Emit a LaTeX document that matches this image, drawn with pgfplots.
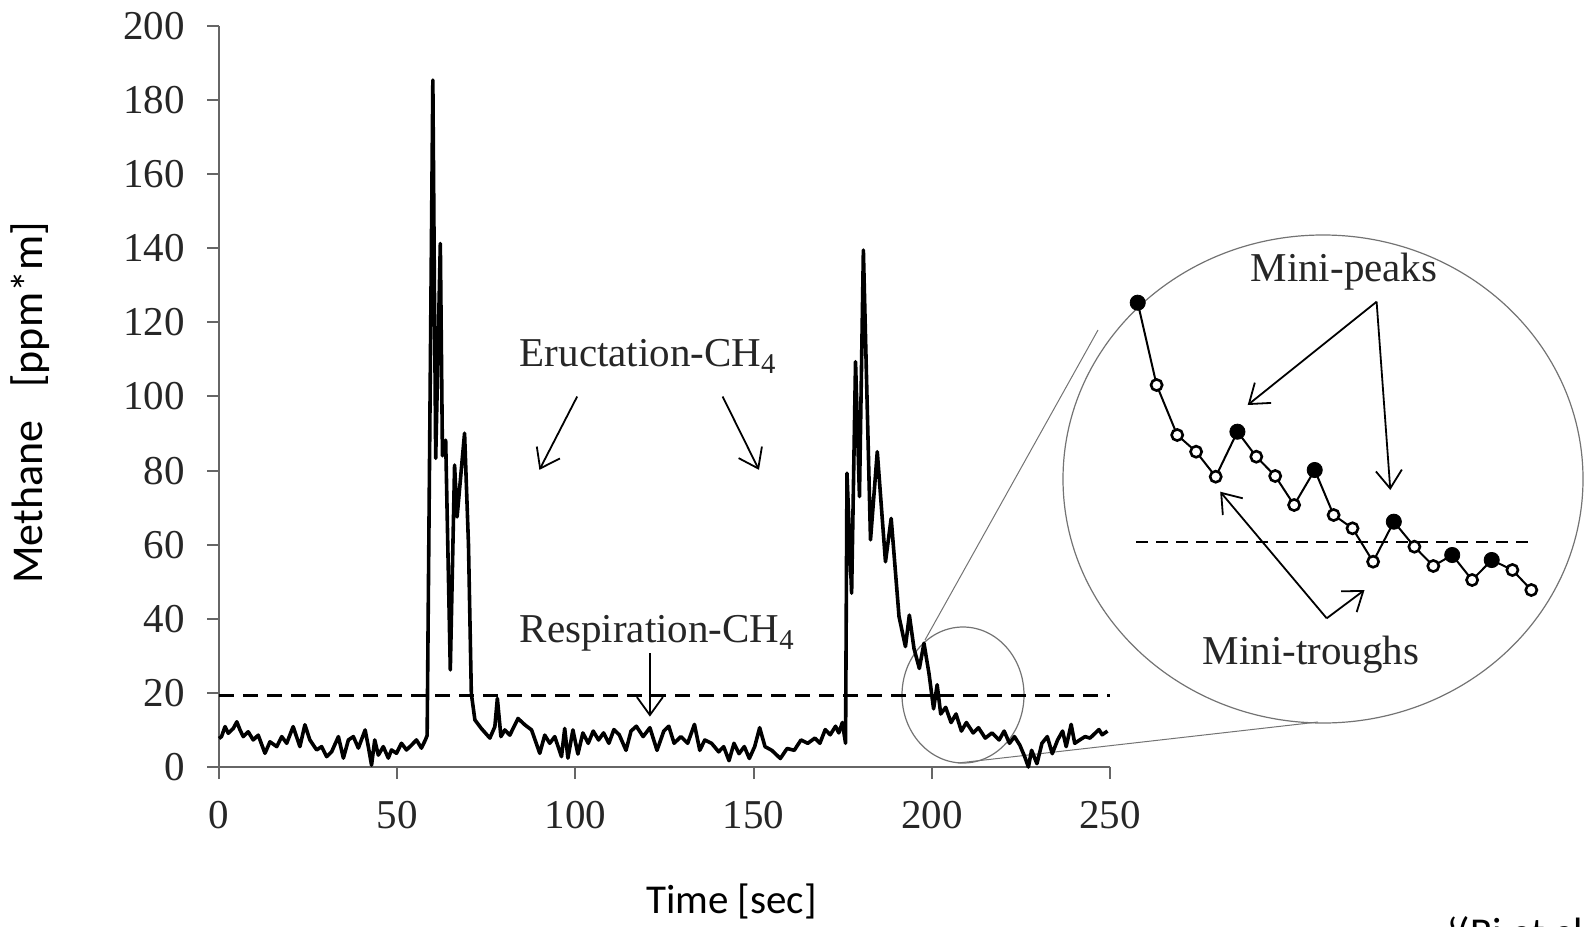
\documentclass[border=0pt]{standalone}
\usepackage{fontspec}
\setmainfont{Liberation Serif}
\newfontfamily\calib{Carlito}
\usepackage{pgfplots}
\usepackage{pgfplotstable}
\pgfplotsset{compat=1.18}
\usetikzlibrary{arrows.meta}

\pgfplotstableread{
x y
0 7.7
0.7 8.2
1.7 10.9
2.6 9.1
4.0 10.4
5.0 12.2
5.9 10.0
6.8 8.2
8.2 9.5
9.6 7.3
11.0 8.6
12.9 3.7
14.3 6.8
16.2 5.5
17.6 8.2
19.0 6.4
20.8 10.9
22.7 5.5
24.1 11.4
25.5 7.3
27.4 4.6
28.8 5.5
30.2 2.8
31.6 4.1
33.5 8.2
34.9 2.4
36.3 7.3
37.7 8.2
39.1 5.1
41.0 10.0
41.9 5.5
42.8 0.5
43.7 7.3
44.7 3.2
46.1 5.5
47.5 2.4
48.4 4.6
49.8 3.7
51.2 6.4
52.6 4.6
54.0 5.9
55.4 7.3
56.8 5.1
57.9 7.3
58.4 8.5
60.0 185.4
60.8 83.3
62.1 141.3
62.7 84.0
63.6 88.2
64.9 26.2
66.1 81.5
66.8 67.5
68.9 90.1
70.0 60.0
70.8 19.8
71.8 12.7
73.6 10.4
76.0 7.8
77.4 10.9
78.1 18.5
79.1 8.2
80.2 10.0
81.6 8.6
83.9 13.1
85.8 11.4
87.7 10.0
90.0 3.7
91.4 8.6
92.8 6.4
94.2 8.2
96.1 2.8
97.0 10.4
97.9 2.4
99.3 10.0
100.7 3.5
102.1 9.2
103.6 6.4
105.0 9.7
106.5 7.3
107.9 9.2
109.4 6.4
110.8 10.1
112.3 8.7
114.2 4.5
115.6 9.7
117.1 11.0
119.0 8.2
120.9 10.6
122.9 4.5
124.8 9.7
126.2 11.0
127.7 6.4
129.6 8.2
131.5 6.4
133.4 11.5
134.9 4.5
136.3 7.3
138.2 6.4
140.2 4.1
141.6 5.5
143.1 1.7
144.5 6.4
145.9 3.6
147.4 5.5
148.8 2.3
150.3 5.5
151.7 10.6
153.2 5.5
155.1 4.5
157.5 2.3
159.4 5.0
161.4 4.5
163.3 7.3
165.2 6.4
167.2 7.8
168.6 6.4
170.1 10.1
171.5 8.7
173.0 11.0
173.9 9.2
174.9 12.0
175.8 6.4
176.2 79.3
177.5 46.9
178.6 109.4
179.7 73.0
180.8 139.5
182.8 61.3
184.7 85.1
187.0 55.4
188.6 67.1
190.8 40.6
192.6 32.5
193.7 41.0
195.0 32.0
196.5 26.6
197.8 33.4
199.2 25.3
200.5 15.7
201.5 22.2
202.5 14.3
203.9 16.1
205.4 12.0
206.8 14.3
208.3 9.7
209.7 12.0
211.6 9.2
213.1 10.6
215.0 7.8
216.9 9.2
218.9 7.3
220.3 9.7
221.8 6.4
223.2 8.2
224.7 5.9
226.1 2.7
227.1 0.0
228.0 4.5
229.5 0.9
230.9 6.4
232.4 8.2
233.8 3.6
235.3 7.3
236.7 9.7
237.7 5.5
239.1 11.5
240.1 6.4
241.5 7.3
243.0 8.2
244.4 7.8
245.9 9.2
246.9 10.1
247.8 8.7
249.3 9.7
}\maintrace

% inset (zoomed detail), in picture pixel coordinates
\pgfplotstableread{
x y
1137.7 302.7
1156.6 385.0
1177.2 435.0
1196.1 451.7
1215.7 476.7
1237.4 431.7
1256.3 456.7
1275.2 476.0
1294.1 505.0
1314.7 470.0
1333.6 515.0
1352.5 528.3
1373.1 561.7
1393.8 521.7
1414.4 546.7
1433.3 566.0
1452.2 555.0
1472.1 580.0
1491.7 560.0
1512.4 570.0
1531.3 590.0
}\insetline

\pgfplotstableread{
x y
1137.7 302.7
1237.4 431.7
1314.7 470.0
1393.8 521.7
1452.2 555.0
1491.7 560.0
}\insetpeaks

\pgfplotstableread{
x y
1156.6 385.0
1177.2 435.0
1196.1 451.7
1215.7 476.7
1256.3 456.7
1275.2 476.0
1294.1 505.0
1333.6 515.0
1352.5 528.3
1373.1 561.7
1414.4 546.7
1433.3 566.0
1472.1 580.0
1512.4 570.0
1531.3 590.0
}\insetother

\begin{document}
\begin{tikzpicture}
\useasboundingbox (0,0) rectangle (794.5pt,463pt);
% overlay axis in pixel coordinates of the picture (for the magnifier inset)
\begin{axis}[at={(0pt,0pt)}, anchor=south west, scale only axis,
  width=794.5pt, height=463pt, xmin=0, xmax=1589, ymin=0, ymax=926,
  y dir=reverse, hide axis, clip=false]
  \draw[black!55, line width=0.6pt] (axis cs:1323,479) ellipse [x radius=130pt, y radius=122pt];
  \draw[black!55, line width=0.6pt] (axis cs:963,695) ellipse [x radius=30.5pt, y radius=34pt];
  \draw[black!55, line width=0.5pt] (axis cs:925,640) -- (axis cs:1098,330);
  \draw[black!55, line width=0.5pt] (axis cs:958,763) -- (axis cs:1318,722);
  \addplot[black, dash pattern=on 6pt off 4pt, line width=1.2pt] coordinates {(1136,541.7) (1535,541.7)};
  \addplot[black, line width=1pt, mark=none] table {\insetline};
  \addplot[only marks, mark=*, mark size=2.8pt, mark options={fill=white, draw=black, line width=1.3pt}] table {\insetother};
  \addplot[only marks, mark=*, mark size=3.8pt, black] table {\insetpeaks};
  \node[font=\fontsize{20.5}{23}\selectfont, text=black!85] at (axis cs:1344,272) {Mini-peaks};
  \node[font=\fontsize{20.5}{23}\selectfont, text=black!85] at (axis cs:1311,655) {Mini-troughs};
  \draw[black, line width=0.9pt, -{Straight Barb[length=9pt, width=13pt]}] (axis cs:1376.6,301.7) -- (axis cs:1247.7,405);
  \draw[black, line width=0.9pt, -{Straight Barb[length=9pt, width=13pt]}] (axis cs:1376.6,301.7) -- (axis cs:1390.3,490);
  \draw[black, line width=0.9pt, -{Straight Barb[length=9pt, width=13pt]}] (axis cs:1326.7,618.3) -- (axis cs:1220.2,491.7);
  \draw[black, line width=0.9pt, -{Straight Barb[length=9pt, width=13pt]}] (axis cs:1326.7,618.3) -- (axis cs:1364.5,590);
  % axis titles and source
  \node[font=\calib\fontsize{22}{25}\selectfont, rotate=90] at (axis cs:30,403) {Methane\hspace{0.75em}[ppm*m]};
  \node[font=\calib\fontsize{20.5}{24}\selectfont, anchor=base] at (axis cs:731.5,913) {Time [sec]};
  \node[font=\calib\fontsize{20.5}{24}\selectfont, anchor=north west, inner sep=0pt] at (axis cs:1447,916) {‘(Bi et al., 20};
\end{axis}
% main chart
\begin{axis}[at={(109.5pt,79.5pt)}, anchor=south west, scale only axis,
  width=445.5pt, height=370.5pt,
  xmin=0, xmax=250, ymin=0, ymax=200, clip=false,
  axis x line=bottom, axis y line=left,
  axis line style={-, black!60, line width=1pt},
  tick style={black!60, line width=1pt},
  tick align=outside, major tick length=6pt,
  xtick={0,50,...,250}, ytick={0,20,...,200},
  minor tick num=0,
  /pgf/number format/assume math mode=true,
  ticklabel style={font=\fontsize{20.5}{23}\selectfont, text=black!85},
  yticklabel style={xshift=-7.5pt},
  xticklabel style={yshift=-7.5pt},
  ]
  \addplot[black, dash pattern=on 7.5pt off 4.5pt, line width=1.5pt] coordinates {(0,19.2) (250,19.2)};
  \addplot[black, line width=1.8pt, line join=round, mark=none] table {\maintrace};
  \node[font=\fontsize{20.5}{23}\selectfont, text=black!85, anchor=base west, inner sep=0pt] at (axis cs:84.3,108) {Eructation-CH\textsubscript{4}};
  \node[font=\fontsize{20.5}{23}\selectfont, text=black!85, anchor=base west, inner sep=0pt] at (axis cs:84.3,33.5) {Respiration-CH\textsubscript{4}};
  \draw[black, line width=0.9pt, -{Straight Barb[length=9pt, width=13pt]}] (axis cs:100.5,100) -- (axis cs:89.9,80.2);
  \draw[black, line width=0.9pt, -{Straight Barb[length=9pt, width=13pt]}] (axis cs:141.3,100) -- (axis cs:151.5,80.2);
  \draw[black, line width=0.9pt, -{Straight Barb[length=9pt, width=13pt]}] (axis cs:120.9,30.7) -- (axis cs:120.9,13.6);
\end{axis}
\end{tikzpicture}
\end{document}
